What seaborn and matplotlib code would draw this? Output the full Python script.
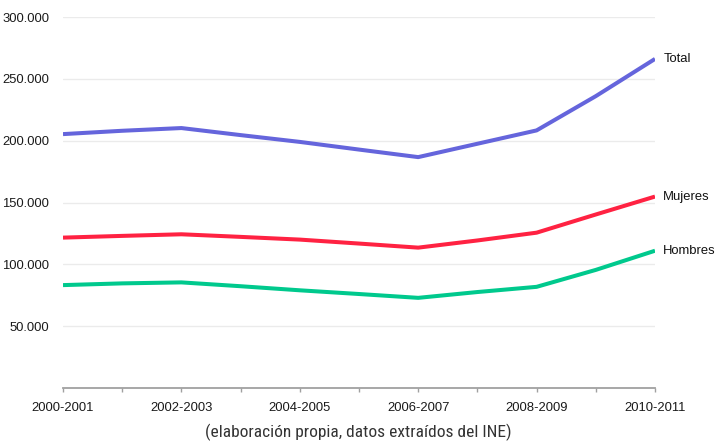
import matplotlib
matplotlib.use("Agg")
import matplotlib.pyplot as plt
import seaborn as sns
import pandas as pd
from matplotlib.ticker import FuncFormatter

cursos = ["2000-2001", "2001-2002", "2002-2003", "2003-2004", "2004-2005", "2005-2006",
          "2006-2007", "2007-2008", "2008-2009", "2009-2010", "2010-2011"]
total = [205300, 208000, 210200, 204500, 199000, 192800, 186700, 197500, 208300, 236000, 266100]
mujeres = [121600, 123000, 124300, 122200, 120000, 116800, 113500, 119300, 125600, 140300, 154800]
hombres = [83200, 84600, 85400, 82300, 79000, 76000, 72900, 77600, 81800, 95500, 111000]
series = ["Total", "Mujeres", "Hombres"]
colores = ["#6565dc", "#ff2242", "#00c98d"]
yticks = [50000, 100000, 150000, 200000, 250000, 300000]

rows = []
for nombre, vals in zip(series, [total, mujeres, hombres]):
    for i, (c, v) in enumerate(zip(cursos, vals)):
        rows.append({"pos": i, "curso": c, "serie": nombre, "valor": v})
df = pd.DataFrame(rows)

sns.set_theme(style="white")
plt.rcParams["font.family"] = ["Liberation Sans", "DejaVu Sans"]

fig = plt.figure(figsize=(7.17, 4.43), dpi=100)
ax = fig.add_axes([63 / 717, 1 - 388 / 443, (655 - 63) / 717, (388 - 17) / 443])

sns.lineplot(data=df, x="pos", y="valor", hue="serie", hue_order=series,
             palette=colores, linewidth=2.9, legend=False, ax=ax,
             solid_capstyle="butt", zorder=3)

ax.set_xlim(0, len(cursos) - 1)
ax.set_ylim(0, 300000)
ax.set_yticks(yticks)
ax.yaxis.set_major_formatter(FuncFormatter(lambda v, p: f"{int(v):,}".replace(",", ".")))
ax.set_xticks(range(len(cursos)))
ax.set_xticklabels([c if i % 2 == 0 else "" for i, c in enumerate(cursos)])

for y in yticks:
    ax.axhline(y, color="#ebebeb", lw=1, zorder=1)

for s in ["top", "right", "left"]:
    ax.spines[s].set_visible(False)
ax.spines["bottom"].set_color("#a0a0a0")
ax.spines["bottom"].set_linewidth(1.3)

ax.tick_params(axis="x", length=3, width=1, color="#a0a0a0", pad=7,
               labelsize=9.4, labelcolor="#1a1a1a", bottom=True)
ax.tick_params(axis="y", length=0, pad=10, labelsize=9.4, labelcolor="#1a1a1a")
ax.set_xlabel("")
ax.set_ylabel("")

# series names at the end of each line
for nombre, vals in zip(series, [total, mujeres, hombres]):
    ax.annotate(nombre, xy=(len(cursos) - 1, vals[-1]), xytext=(6, 0),
                textcoords="offset points", va="center", ha="left",
                fontsize=9.4, color="#111111", annotation_clip=False)

fig.text(358 / 717, 1 - 432 / 443, "(elaboración propia, datos extraídos del INE)",
         ha="center", va="center", fontsize=12.5, fontstretch="condensed",
         family=["Roboto Condensed", "DejaVu Sans"], color="#333333")

fig.savefig("out.png", dpi=100)
